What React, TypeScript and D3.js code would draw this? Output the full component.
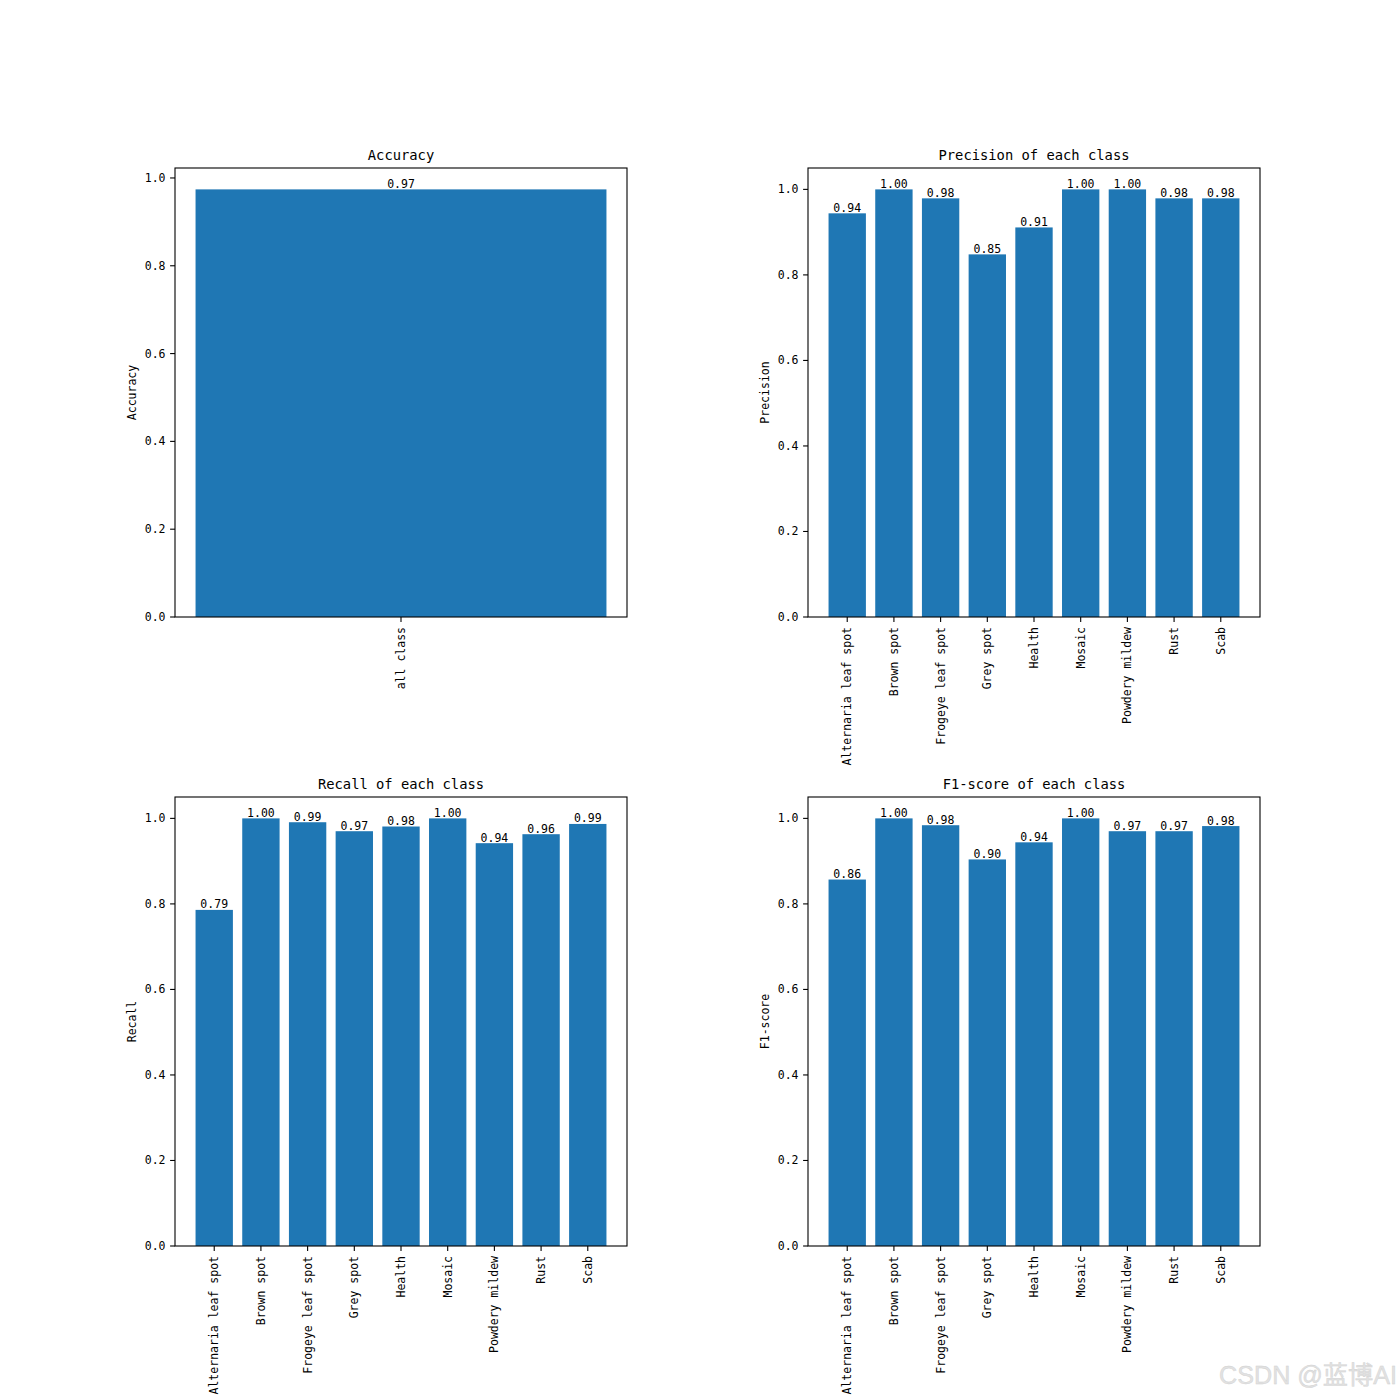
import React from "react";
import * as d3 from "d3";

const classes = [
  "Alternaria leaf spot",
  "Brown spot",
  "Frogeye leaf spot",
  "Grey spot",
  "Health",
  "Mosaic",
  "Powdery mildew",
  "Rust",
  "Scab",
];
const accuracyCats = ["all class"];
const accuracyValues = [0.974];
const precisionValues = [0.944, 1.0, 0.979, 0.848, 0.911, 1.0, 1.0, 0.979, 0.979];
const recallValues = [0.786, 1.0, 0.991, 0.97, 0.981, 1.0, 0.942, 0.963, 0.987];
const f1Values = [0.857, 1.0, 0.984, 0.904, 0.944, 1.0, 0.97, 0.97, 0.982];
const yTicks = [0, 0.2, 0.4, 0.6, 0.8, 1.0];

const FONT = "'DejaVu Sans Mono', 'Liberation Mono', monospace";
const BAR = "#1f77b4";
const W = 452;
const H = 449;

type PanelProps = {
  left: number;
  top: number;
  title: string;
  ylabel: string;
  cats: string[];
  values: number[];
};

function Panel({ left, top, title, ylabel, cats, values }: PanelProps) {
  const n = cats.length;
  const lo = -0.4;
  const hi = n - 1 + 0.4;
  const m = 0.05 * (hi - lo);
  const x = d3.scaleLinear().domain([lo - m, hi + m]).range([left, left + W]);
  const y = d3
    .scaleLinear()
    .domain([0, (d3.max(values) as number) * 1.05])
    .range([top + H, top]);
  const fmt = d3.format(".2f");
  const tickFmt = d3.format(".1f");
  return (
    <g>
      {values.map((v, i) => (
        <rect
          key={"b" + i}
          x={x(i - 0.4)}
          width={x(i + 0.4) - x(i - 0.4)}
          y={y(v)}
          height={y(0) - y(v)}
          fill={BAR}
        />
      ))}
      {values.map((v, i) => (
        <text
          key={"v" + i}
          x={x(i)}
          y={y(v) - 1.5}
          textAnchor="middle"
          fontFamily={FONT}
          fontSize={11.5}
          fill="#000"
        >
          {fmt(v)}
        </text>
      ))}
      <rect x={left} y={top} width={W} height={H} fill="none" stroke="#000" strokeWidth={1.1} />
      {yTicks.map((t) => (
        <g key={"y" + t}>
          <line x1={left - 4.9} x2={left} y1={y(t)} y2={y(t)} stroke="#000" strokeWidth={1.1} />
          <text
            x={left - 9.5}
            y={y(t)}
            textAnchor="end"
            dominantBaseline="central"
            fontFamily={FONT}
            fontSize={11.5}
          >
            {tickFmt(t)}
          </text>
        </g>
      ))}
      {cats.map((c, i) => (
        <g key={"x" + i}>
          <line x1={x(i)} x2={x(i)} y1={top + H} y2={top + H + 4.9} stroke="#000" strokeWidth={1.1} />
          <text
            transform={`translate(${x(i)},${top + H + 10}) rotate(-90)`}
            textAnchor="end"
            dominantBaseline="central"
            fontFamily={FONT}
            fontSize={11.5}
          >
            {c}
          </text>
        </g>
      ))}
      <text
        transform={`translate(${left - 43},${top + H / 2}) rotate(-90)`}
        textAnchor="middle"
        dominantBaseline="central"
        fontFamily={FONT}
        fontSize={11.5}
      >
        {ylabel}
      </text>
      <text
        x={left + W / 2}
        y={top - 8}
        textAnchor="middle"
        fontFamily={FONT}
        fontSize={13.8}
      >
        {title}
      </text>
    </g>
  );
}

export default function App() {
  return (
    <svg
      width={1400}
      height={1400}
      style={{ position: "absolute", left: 0, top: 0, background: "#fff" }}
    >
      <rect x={0} y={0} width={1400} height={1400} fill="#fff" />
      <Panel left={175} top={168} title="Accuracy" ylabel="Accuracy" cats={accuracyCats} values={accuracyValues} />
      <Panel left={808} top={168} title="Precision of each class" ylabel="Precision" cats={classes} values={precisionValues} />
      <Panel left={175} top={797} title="Recall of each class" ylabel="Recall" cats={classes} values={recallValues} />
      <Panel left={808} top={797} title="F1-score of each class" ylabel="F1-score" cats={classes} values={f1Values} />
      <text
        x={1219}
        y={1384}
        fontFamily="'Liberation Sans', 'Noto Sans CJK SC', sans-serif"
        fontSize={25}
        textLength={178}
        lengthAdjust="spacingAndGlyphs"
        fill="#e2e2e2"
        stroke="#d0d0d0"
        strokeWidth={0.4}
      >
        CSDN @蓝博AI
      </text>
    </svg>
  );
}
